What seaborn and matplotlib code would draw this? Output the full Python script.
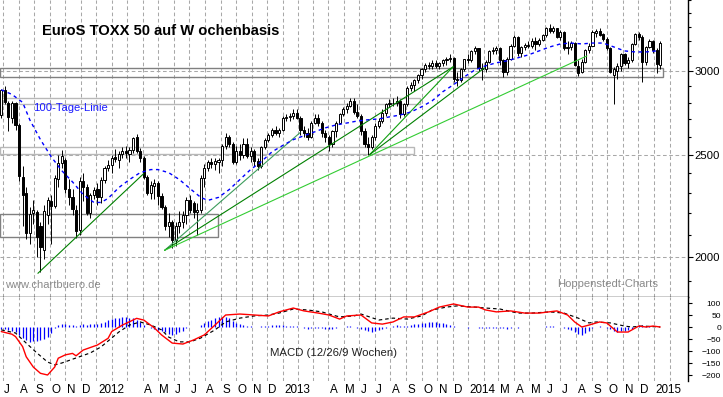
import numpy as np
import pandas as pd
import seaborn as sns
import matplotlib.pyplot as plt
import matplotlib.transforms as mtransforms
from matplotlib.patches import Rectangle
from matplotlib.ticker import FixedLocator, FuncFormatter, NullFormatter

# weekly candles, first week = week of 27 June 2011 (186 weeks)
first_week = '2011-06-28'
opens = [2725, 2880, 2800, 2710, 2795, 2665, 2380, 2300, 2110, 2200,
         2205, 2140, 2030, 2190, 2260, 2235, 2370, 2455, 2470, 2320,
         2280, 2215, 2120, 2360, 2330, 2200, 2290, 2320, 2280, 2365,
         2430, 2445, 2485, 2470, 2505, 2520, 2505, 2525, 2595, 2520,
         2480, 2380, 2300, 2335, 2350, 2285, 2230, 2140, 2160, 2075,
         2140, 2160, 2190, 2265, 2250, 2205, 2215, 2375, 2430, 2460,
         2450, 2460, 2470, 2550, 2595, 2560, 2460, 2520, 2500, 2560,
         2490, 2520, 2465, 2440, 2540, 2580, 2610, 2640, 2620, 2635,
         2710, 2715, 2720, 2740, 2710, 2635, 2620, 2600, 2680, 2710,
         2680, 2620, 2600, 2560, 2630, 2680, 2730, 2760, 2780, 2810,
         2745, 2720, 2630, 2560, 2540, 2600, 2660, 2690, 2740, 2790,
         2800, 2795, 2810, 2730, 2790, 2890, 2910, 2940, 2970, 3010,
         3040, 3030, 3050, 3035, 3050, 3070, 3080, 3085, 2950, 2940,
         3010, 3075, 3070, 3130, 3150, 3020, 3010, 3060, 3130, 3140,
         3150, 3070, 2990, 3080, 3170, 3230, 3120, 3160, 3175, 3165,
         3200, 3180, 3210, 3245, 3290, 3275, 3290, 3230, 3265, 3150,
         3160, 3190, 3030, 2990, 3060, 3140, 3170, 3255, 3275, 3250,
         3215, 3150, 2970, 3000, 3030, 3110, 3050, 3070, 3180, 3250,
         3230, 3060, 3160, 3200, 3140, 3040]
highs = [2885, 2900, 2810, 2810, 2805, 2680, 2440, 2330, 2230, 2265,
         2215, 2160, 2240, 2280, 2290, 2390, 2500, 2525, 2480, 2370,
         2320, 2240, 2380, 2400, 2345, 2300, 2330, 2350, 2380, 2440,
         2470, 2500, 2530, 2520, 2540, 2545, 2540, 2600, 2615, 2535,
         2490, 2390, 2360, 2370, 2360, 2300, 2240, 2200, 2170, 2160,
         2210, 2210, 2280, 2290, 2260, 2250, 2390, 2450, 2470, 2480,
         2480, 2480, 2560, 2620, 2610, 2570, 2545, 2560, 2590, 2590,
         2540, 2530, 2480, 2550, 2590, 2620, 2650, 2660, 2650, 2720,
         2730, 2740, 2760, 2760, 2720, 2660, 2650, 2690, 2730, 2730,
         2690, 2640, 2610, 2640, 2690, 2740, 2770, 2800, 2830, 2830,
         2790, 2730, 2650, 2600, 2610, 2680, 2710, 2760, 2800, 2820,
         2830, 2840, 2820, 2800, 2900, 2930, 2950, 2980, 3020, 3050,
         3060, 3070, 3070, 3060, 3080, 3090, 3110, 3090, 2990, 3020,
         3080, 3110, 3140, 3170, 3155, 3050, 3070, 3140, 3160, 3170,
         3160, 3080, 3090, 3180, 3240, 3235, 3170, 3190, 3200, 3220,
         3230, 3220, 3250, 3300, 3325, 3310, 3295, 3280, 3275, 3200,
         3200, 3195, 3070, 3075, 3145, 3190, 3280, 3285, 3290, 3260,
         3230, 3160, 3025, 3050, 3120, 3120, 3090, 3190, 3260, 3265,
         3240, 3170, 3215, 3210, 3150, 3200]
lows = [2705, 2790, 2630, 2680, 2640, 2360, 2140, 2080, 2060, 2150,
        2000, 1935, 1990, 2150, 2060, 2225, 2330, 2430, 2300, 2240,
        2190, 2085, 2100, 2260, 2190, 2180, 2270, 2240, 2250, 2350,
        2410, 2400, 2460, 2430, 2480, 2480, 2460, 2510, 2510, 2460,
        2370, 2290, 2270, 2270, 2240, 2220, 2120, 2090, 2040, 2050,
        2110, 2130, 2150, 2200, 2180, 2100, 2200, 2330, 2410, 2430,
        2420, 2400, 2440, 2530, 2540, 2450, 2450, 2470, 2480, 2480,
        2460, 2440, 2420, 2430, 2530, 2570, 2600, 2610, 2600, 2630,
        2690, 2690, 2700, 2700, 2610, 2600, 2580, 2590, 2670, 2660,
        2600, 2570, 2520, 2540, 2600, 2670, 2720, 2740, 2770, 2730,
        2710, 2610, 2540, 2500, 2530, 2580, 2650, 2680, 2720, 2770,
        2780, 2780, 2710, 2720, 2780, 2870, 2870, 2920, 2950, 2990,
        3010, 3015, 3020, 3010, 3030, 3040, 3060, 2930, 2900, 2930,
        3000, 3050, 3060, 3110, 3000, 2940, 2990, 3050, 3110, 3110,
        3040, 2960, 2970, 3070, 3160, 3100, 3090, 3140, 3150, 3150,
        3140, 3170, 3200, 3230, 3260, 3255, 3220, 3210, 3140, 3110,
        3140, 3030, 2965, 2985, 3050, 3120, 3165, 3230, 3235, 3200,
        3140, 2985, 2790, 2950, 3000, 3040, 3020, 3060, 3175, 3210,
        2925, 3040, 3150, 3120, 2985, 3010]
closes = [2880, 2805, 2715, 2795, 2665, 2385, 2290, 2110, 2195, 2215,
          2090, 2045, 2210, 2265, 2235, 2375, 2455, 2490, 2320, 2280,
          2220, 2115, 2360, 2330, 2200, 2290, 2315, 2280, 2365, 2430,
          2445, 2480, 2475, 2505, 2520, 2510, 2525, 2590, 2520, 2480,
          2380, 2300, 2340, 2350, 2285, 2230, 2140, 2160, 2075, 2140,
          2160, 2190, 2265, 2215, 2205, 2215, 2375, 2430, 2460, 2450,
          2465, 2470, 2550, 2595, 2560, 2460, 2520, 2500, 2560, 2490,
          2520, 2465, 2440, 2540, 2580, 2610, 2640, 2620, 2635, 2710,
          2715, 2720, 2735, 2710, 2635, 2620, 2600, 2680, 2710, 2680,
          2620, 2600, 2560, 2630, 2680, 2730, 2760, 2780, 2810, 2745,
          2720, 2630, 2560, 2540, 2600, 2660, 2690, 2740, 2790, 2800,
          2795, 2810, 2730, 2790, 2890, 2910, 2940, 2970, 3010, 3040,
          3030, 3050, 3035, 3050, 3070, 3080, 3085, 2950, 2940, 3010,
          3075, 3070, 3130, 3150, 3020, 3010, 3060, 3130, 3140, 3150,
          3070, 2990, 3080, 3170, 3230, 3120, 3160, 3175, 3165, 3200,
          3180, 3210, 3245, 3290, 3275, 3290, 3230, 3265, 3150, 3160,
          3190, 3040, 2985, 3060, 3140, 3170, 3265, 3275, 3245, 3215,
          3150, 2995, 3010, 3030, 3110, 3050, 3070, 3180, 3250, 3230,
          3060, 3160, 3200, 3140, 3045, 3185]

# 100-Tage-Linie, read at selected weeks
ma_week = [0, 3, 6, 8, 11, 14, 17, 20, 23, 26, 28, 30, 33, 36, 39, 42, 44, 47, 50, 53,
           56, 58, 61, 64, 67, 70, 73, 76, 79, 82, 85, 88, 91, 94, 97, 100, 103, 106, 109, 112,
           115, 118, 121, 124, 127, 130, 133, 136, 139, 142, 145, 148, 151, 154, 157, 160, 163, 166, 169, 172,
           175, 178, 181, 184]
ma_value = [2879, 2850, 2801, 2697, 2583, 2489, 2414, 2356, 2292, 2253, 2253, 2273, 2327, 2368, 2404, 2420, 2420, 2404, 2368, 2322,
            2278, 2263, 2278, 2317, 2368, 2420, 2462, 2515, 2550, 2583, 2605, 2627, 2650, 2667, 2678, 2690, 2697, 2702, 2714, 2725,
            2743, 2774, 2811, 2867, 2911, 2961, 3006, 3033, 3053, 3066, 3086, 3106, 3133, 3160, 3181, 3187, 3181, 3187, 3187, 3160,
            3133, 3126, 3126, 3133]

# MACD (12/26/9)
macd_week = [0, 3, 4, 6, 7, 9, 11, 13, 15, 16, 18, 20, 21, 23, 27, 30, 31, 34, 37, 38,
             40, 43, 45, 48, 51, 54, 57, 60, 63, 67, 71, 75, 78, 82, 85, 89, 92, 95, 97, 101,
             104, 107, 110, 113, 116, 120, 123, 127, 131, 134, 136, 139, 143, 147, 151, 156, 159, 161, 163, 165,
             168, 170, 173, 176, 179, 181, 183, 185]
macd_value = [-19, -30, -40, -82, -124, -167, -193, -200, -167, -130, -116, -110, -120, -96, -75, -47, -19, 8, 29, 36,
              29, -4, -33, -67, -71, -54, -33, 8, 50, 54, 50, 46, 63, 79, 67, 58, 50, 33, 46, 50,
              17, 12, 21, 42, 42, 63, 83, 96, 83, 83, 71, 63, 67, 58, 58, 67, 50, 21, 0, 8,
              21, 17, -21, -21, 4, 0, 4, 0]
signal_week = [0, 4, 7, 10, 13, 15, 17, 21, 25, 28, 31, 33, 36, 39, 42, 45, 47, 50, 53, 56,
               60, 63, 67, 71, 75, 78, 82, 86, 90, 93, 95, 99, 101, 106, 110, 114, 118, 121, 125, 128,
               133, 136, 140, 145, 149, 154, 158, 162, 165, 167, 171, 175, 177, 180, 185]
signal_value = [-12, -25, -67, -108, -146, -158, -150, -129, -108, -83, -46, -21, 8, 21, 8, -12, -42, -62, -62, -46,
                -12, 21, 37, 46, 50, 58, 75, 71, 63, 50, 42, 46, 54, 29, 37, 33, 46, 71, 83, 88,
                83, 79, 75, 58, 58, 63, 58, 37, 17, 21, 17, 4, 0, 4, 0]
macd_hist = [-8, -10, -12, -15, -20, -35, -45, -55, -62, -60,
             -58, -55, -48, -40, -25, -5, 8, 14, 12, 10,
             8, 6, 10, 12, 10, 11, 13, 14, 18, 22,
             28, 32, 36, 38, 40, 40, 38, 36, 30, 20,
             10, 2, -5, -8, -12, -16, -22, -28, -32, -28,
             -22, -15, -6, -2, 0, 2, 10, 18, 25, 30,
             36, 40, 42, 42, 36, 24, 16, 12, 8, 6,
             4, 2, 0, 3, 5, 6, 7, 8, 8, 7,
             6, 6, 5, 3, -2, -5, -7, -6, -4, -3,
             -5, -7, -9, -8, -5, -2, 2, 4, 4, 2,
             -3, -8, -14, -18, -20, -18, -14, -10, -5, 2,
             6, 8, 5, 3, 6, 9, 12, 14, 16, 18,
             20, 21, 20, 18, 15, 12, 10, 6, 2, 0,
             -2, -3, -2, -1, -3, -5, -6, -5, -4, -3,
             -4, -6, -7, -5, -2, -3, -2, -1, -1, 0,
             -1, 0, 2, 4, 5, 4, 2, 2, -3, -8,
             -12, -20, -28, -32, -25, -15, -5, 2, 3, 2,
             -4, -10, -18, -20, -18, -15, -12, -8, -2, 8,
             10, 4, 3, 2, 0, 0]

# trend lines (start date, start price, end date, end price)
trend_start = ['2011-09-08', '2012-05-14', '2012-05-14', '2012-05-14', '2013-06-21', '2013-06-21']
trend_start_price = [1931, 2030, 2030, 2030, 2500, 2500]
trend_end = ['2012-04-03', '2013-02-04', '2013-12-02', '2014-08-22', '2013-12-02', '2014-02-02']
trend_end_price = [2399, 2622, 3026, 3099, 3026, 3020]
trend_colors = ['#008000', '#3c9c5c', '#008000', '#33cc33', '#10a010', '#008000']

# horizontal zones
box_end = ['2015-01-19', '2013-09-28', '2013-09-16', '2012-08-27']
box_low = [2961, 2793, 2506, 2092]
box_high = [3020, 2830, 2544, 2195]
box_colors = ['#808080', '#b8b8b8', '#b8b8b8', '#808080']

month_labels = ['J', 'A', 'S', 'O', 'N', 'D',
                '2012', '', '', 'A', 'M', 'J', 'J', 'A', 'S', 'O', 'N', 'D',
                '2013', '', '', 'A', 'M', 'J', 'J', 'A', 'S', 'O', 'N', 'D',
                '2014', '', 'M', 'A', 'M', 'J', 'J', 'A', 'S', 'O', 'N', 'D',
                '2015', '']

sns.set_theme(style='white')
plt.rcParams['font.family'] = ['Liberation Sans', 'DejaVu Sans']

weeks = pd.date_range(first_week, periods=len(closes), freq='7D')
df = pd.DataFrame({'week': weeks, 'open': opens, 'high': highs, 'low': lows, 'close': closes})
up = df['close'] >= df['open']

fig = plt.figure(figsize=(7.23, 3.97), dpi=100)
ax = fig.add_axes([0, 1 - 297 / 397, 688 / 723, 297 / 397])
mx = fig.add_axes([0, 1 - 381 / 397, 688 / 723, 84 / 397], sharex=ax)

grid_kw = dict(color='#a8a8a8', linestyle=(0, (3.5, 2.5)), linewidth=0.75)
x0 = pd.Timestamp('2011-06-25 12:00')
x1 = pd.Timestamp('2015-03-08 18:00')

# candles
ax.set_yscale('log')
ax.vlines(df['week'], df['low'], df['high'], color='black', lw=0.7, zorder=4)
ax.bar(df['week'][up], (df['close'] - df['open'])[up], bottom=df['open'][up], width=4.2,
       color='white', edgecolor='black', linewidth=0.7, zorder=5)
ax.bar(df['week'][~up], (df['open'] - df['close'])[~up], bottom=df['close'][~up], width=4.2,
       color='black', edgecolor='black', linewidth=0.7, zorder=5)

# zones
for end, lo, hi, c in zip(box_end, box_low, box_high, box_colors):
    ax.add_patch(Rectangle((x0, lo), pd.Timestamp(end) - x0, hi - lo, fill=False,
                           edgecolor=c, linewidth=1.0, zorder=3))

# trend lines
for s, sp, e, ep, c in zip(trend_start, trend_start_price, trend_end, trend_end_price, trend_colors):
    ax.plot([pd.Timestamp(s), pd.Timestamp(e)], [sp, ep], color=c, lw=0.8, zorder=6)

# 100-Tage-Linie
ma = pd.DataFrame({'week': weeks[ma_week], 'value': ma_value})
sns.lineplot(data=ma, x='week', y='value', ax=ax, color='#0000ff', lw=1.0,
             linestyle=(0, (2.5, 2.5)), zorder=7)

month_starts = pd.date_range('2011-07-01', periods=len(month_labels), freq='MS')
ax.set_xlim(x0, x1)
ax.set_ylim(1834, 3500)
ax.set_xticks(month_starts)
ax.yaxis.set_major_locator(FixedLocator([2000, 2500, 3000]))
ax.yaxis.set_major_formatter(FuncFormatter(lambda v, p: f'{v:.0f}'))
ax.yaxis.set_minor_locator(FixedLocator(list(range(1900, 3501, 100))))
ax.yaxis.set_minor_formatter(NullFormatter())
ax.grid(True, axis='both', which='major', **grid_kw)
ax.set_axisbelow(True)
ax.tick_params(axis='x', bottom=False, labelbottom=False)
ax.tick_params(axis='y', which='both', left=False, labelleft=False, right=True, labelright=True,
               direction='out', colors='black')
ax.tick_params(axis='y', which='major', length=3.6, width=0.8, pad=19.4, labelsize=8.2)
ax.tick_params(axis='y', which='minor', length=2.2, width=0.8)
for lab in ax.get_yticklabels():
    lab.set_horizontalalignment('right')
ax.set_xlabel('')
ax.set_ylabel('')
for side in ['left', 'top']:
    ax.spines[side].set_visible(False)
for side in ['right', 'bottom']:
    ax.spines[side].set_color('black')
    ax.spines[side].set_linewidth(1.0)

ax.text(42 / 688, 1 - 31 / 297, 'EuroS TOXX 50 auf W ochenbasis', transform=ax.transAxes,
        fontsize=10.6, fontweight='bold', ha='left', va='center', color='black')
ax.text(33 / 688, 1 - 108 / 297, '100-Tage-Linie', transform=ax.transAxes,
        fontsize=8.1, ha='left', va='center', color='#1a1aff')
ax.text(5 / 688, 1 - 285 / 297, 'www.chartbuero.de', transform=ax.transAxes,
        fontsize=8.0, ha='left', va='center', color='#8a8a8a')
ax.text(658 / 688, 1 - 284 / 297, 'Hoppenstedt-Charts', transform=ax.transAxes,
        fontsize=8.1, ha='right', va='center', color='#8a8a8a')

# MACD panel
mx.vlines(weeks, 0, macd_hist, color='#0000ff', lw=0.9, zorder=3)
macd = pd.DataFrame({'week': weeks[macd_week], 'value': macd_value})
signal = pd.DataFrame({'week': weeks[signal_week], 'value': signal_value})
sns.lineplot(data=signal, x='week', y='value', ax=mx, color='black', lw=0.85,
             linestyle=(0, (3, 2.5)), zorder=4)
sns.lineplot(data=macd, x='week', y='value', ax=mx, color='#ff0000', lw=1.0, zorder=5)
mx.set_ylim(-225, 125)
mx.set_yticks(list(range(-200, 101, 50)))
mx.grid(True, axis='x', **grid_kw)
mx.grid(False, axis='y')
mx.set_axisbelow(True)
mx.tick_params(axis='y', left=False, labelleft=False, right=True, labelright=True,
               direction='out', length=2.9, width=0.8, pad=20.9, labelsize=6.1, colors='black')
for lab in mx.get_yticklabels():
    lab.set_horizontalalignment('right')
mx.set_xticks(month_starts)
mx.set_xticklabels(month_labels, ha='left')
mx.tick_params(axis='x', bottom=True, labelbottom=True, length=0, pad=2.2, labelsize=8.4, colors='black')
shift = mtransforms.ScaledTranslation(1.5 / 100, 0, fig.dpi_scale_trans)
for lab in mx.get_xticklabels():
    lab.set_transform(lab.get_transform() + shift)
mx.set_xlim(x0, x1)
mx.set_xlabel('')
mx.set_ylabel('')
for side in ['left', 'top', 'bottom']:
    mx.spines[side].set_visible(False)
mx.spines['right'].set_color('black')
mx.spines['right'].set_linewidth(1.0)
mx.text(270 / 688, 28 / 84, 'MACD (12/26/9 Wochen)', transform=mx.transAxes,
        fontsize=8.2, ha='left', va='center', color='#202020')

fig.savefig('out.png', dpi=100)
